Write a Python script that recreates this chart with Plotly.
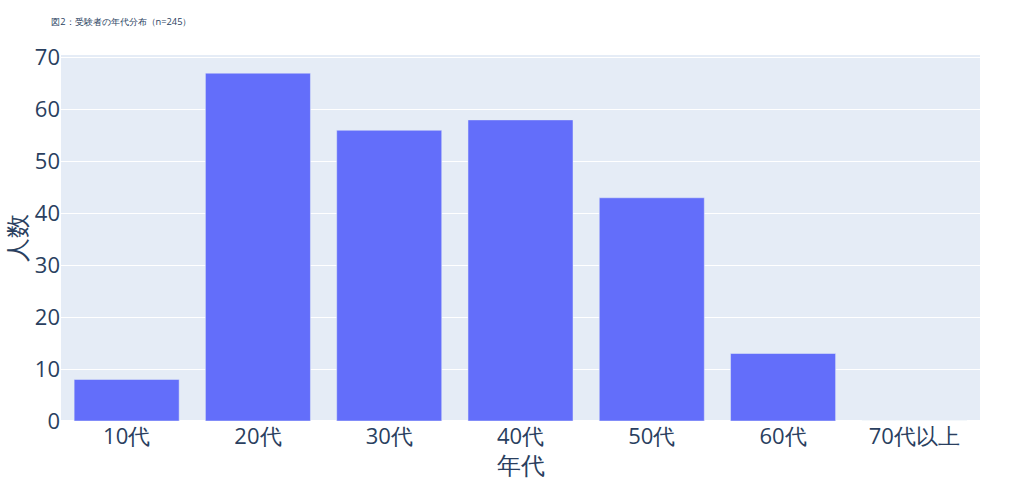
import plotly.graph_objects as go

# 年代別の受験者数
age_groups = ["10代", "20代", "30代", "40代", "50代", "60代", "70代以上"]
counts = [8, 67, 56, 58, 43, 13, 0]

fig = go.Figure(
    go.Bar(
        x=age_groups,
        y=counts,
        marker_color="#636efa",
        showlegend=False,
    )
)

fig.update_layout(
    template="plotly",
    width=1024,
    height=481,
    title=dict(
        text="図2：受験者の年代分布（n=245）",
        font=dict(size=9.3),
        x=0.05,
        xanchor="left",
        y=0.955,
        yanchor="middle",
    ),
    margin=dict(l=61, r=44, t=55, b=60),
    xaxis=dict(
        title=dict(text="年代", font=dict(size=24)),
        tickfont=dict(size=22),
        automargin=False,
    ),
    yaxis=dict(
        title=dict(text="人数", font=dict(size=24)),
        tickfont=dict(size=22),
        range=[0, 70.5],
        automargin=False,
    ),
)

# drop the default page margin so the figure sits flush at the top-left
fig.write_html(
    "out.html",
    config={"displayModeBar": False},
    post_script="document.body.style.margin='0';",
)
